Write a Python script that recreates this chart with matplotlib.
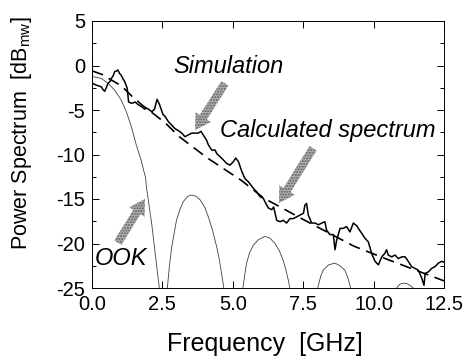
"""
Power spectrum of simulated signal vs calculated spectrum and OOK.
Saves the chart to out.png.
"""

import numpy as np
import matplotlib
matplotlib.use("Agg")
import matplotlib.pyplot as plt

# simulated spectrum (GHz, dBmW)
sim_f = [0.00, 0.01, 0.15, 0.33, 0.40, 0.45, 0.52, 0.57, 0.64, 0.69, 0.76, 0.80,
         0.88, 0.92, 0.98, 1.04, 1.10, 1.16, 1.25, 1.30, 1.41, 1.46, 1.53, 1.64,
         1.75, 1.87, 1.95, 2.05, 2.12, 2.22, 2.31, 2.40, 2.52, 2.59, 2.67, 2.71,
         2.83, 2.95, 3.06, 3.19, 3.30, 3.42, 3.54, 3.66, 3.77, 3.87, 3.95, 4.07,
         4.13, 4.25, 4.37, 4.43, 4.55, 4.66, 4.78, 4.90, 5.02, 5.10, 5.20, 5.32,
         5.43, 5.55, 5.73, 5.85, 5.97, 6.08, 6.14, 6.26, 6.38, 6.45, 6.56, 6.68,
         6.79, 6.91, 7.03, 7.15, 7.27, 7.39, 7.51, 7.56, 7.62, 7.68, 7.80, 7.92,
         8.04, 8.16, 8.27, 8.33, 8.45, 8.57, 8.63, 8.69, 8.81, 8.92, 9.04, 9.16,
         9.28, 9.40, 9.50, 9.58, 9.69, 9.81, 9.93, 10.05, 10.17, 10.29, 10.40,
         10.46, 10.52, 10.64, 10.76, 10.88, 11.00, 11.12, 11.23, 11.35, 11.47,
         11.59, 11.71, 11.79, 11.83, 11.94, 12.06, 12.18, 12.30, 12.42, 12.50]
sim_db = [0.4, -2.0, -2.2, -2.4, -2.75, -2.9, -2.4, -2.0, -1.8, -1.45, -1.1, -0.7,
          -0.6, -0.5, -0.9, -1.1, -1.5, -1.8, -2.55, -4.1, -4.25, -4.2, -4.1, -4.4,
          -4.6, -4.9, -4.8, -5.0, -5.2, -4.9, -3.8, -4.4, -5.5, -5.7, -6.1, -6.3,
          -6.7, -7.1, -7.3, -7.6, -8.0, -7.8, -7.6, -7.6, -7.6, -7.4, -7.8, -8.4,
          -8.9, -9.5, -9.5, -9.9, -10.25, -10.6, -11.0, -11.2, -10.8, -10.4, -10.8, -11.9,
          -12.7, -13.05, -13.8, -14.2, -14.75, -14.9, -15.3, -16.0, -16.2, -15.9, -17.4, -17.55,
          -17.4, -17.7, -17.2, -17.2, -17.0, -16.8, -16.6, -15.7, -15.5, -16.8, -17.7, -17.7,
          -17.9, -17.7, -17.55, -18.5, -19.0, -19.0, -20.7, -19.6, -18.3, -18.3, -18.1, -18.7,
          -17.7, -18.0, -18.5, -18.85, -19.4, -19.8, -21.1, -22.0, -22.4, -21.5, -21.1,
          -20.7, -21.3, -21.5, -21.3, -21.7, -21.5, -21.5, -22.0, -22.6, -22.8,
          -23.0, -23.9, -24.7, -23.35, -23.2, -22.8, -22.6, -22.2, -22.0, -22.1]

# calculated spectrum (dashed)
calc_f = [0.0, 0.35, 1.05, 1.4, 1.8, 2.3, 2.65, 3.1, 4.1, 5.3, 6.1, 7.5, 9.3, 10.5, 12.5]
calc_db = [-0.6, -1.0, -2.3, -3.4, -4.5, -5.7, -6.6, -8.0, -10.4, -12.9, -14.9,
           -17.3, -20.3, -21.8, -24.2]

# OOK spectrum lobes, nan separates lobes
ook_f = [0.0, 0.04, 0.33, 0.57, 0.80, 1.04, 1.22, 1.40, 1.57, 1.75, 1.90, 1.94, 2.12, 2.27, 2.39, 2.45,
         np.nan,
         2.62, 2.67, 2.75, 2.83, 3.0, 3.12, 3.24, 3.40, 3.54, 3.70, 3.84, 4.0, 4.13, 4.28, 4.43, 4.52, 4.60, 4.69, 4.75,
         np.nan,
         5.28, 5.35, 5.42, 5.49, 5.60, 5.73, 5.90, 6.14, 6.32, 6.50, 6.65, 6.79, 6.88, 6.97, 7.05, 7.1,
         np.nan,
         7.9, 8.0, 8.04, 8.12, 8.21, 8.40, 8.63, 8.80, 8.98, 9.08, 9.16, 9.22, 9.3,
         np.nan,
         10.75, 10.82, 10.92, 11.05, 11.18, 11.29, 11.41, 11.5]
ook_db = [-1.2, -1.25, -1.45, -2.0, -2.75, -3.9, -5.2, -6.9, -8.9, -10.7, -12.6, -13.8, -17.8, -21.8, -25.0, -27.0,
          np.nan,
          -27.0, -25.2, -22.5, -20.4, -17.4, -16.2, -15.3, -14.7, -14.55, -14.7, -15.1, -15.9, -17.0, -18.5, -20.4, -21.8, -23.35, -25.2, -27.0,
          np.nan,
          -27.0, -25.2, -23.6, -22.2, -21.0, -20.2, -19.6, -19.2, -19.4, -20.0, -20.8, -21.9, -22.9, -24.1, -25.4, -27.0,
          np.nan,
          -27.0, -25.2, -24.7, -23.7, -23.0, -22.4, -22.2, -22.5, -23.0, -23.8, -24.7, -25.5, -27.0,
          np.nan,
          -26.0, -25.0, -24.6, -24.45, -24.5, -24.7, -25.0, -26.0]

x_ticks = [0.0, 2.5, 5.0, 7.5, 10.0, 12.5]
y_ticks = [5, 0, -5, -10, -15, -20, -25]

plt.rcParams["font.family"] = ["Liberation Sans", "DejaVu Sans"]
plt.rcParams["mathtext.fontset"] = "custom"
plt.rcParams["mathtext.rm"] = "Liberation Sans"
plt.rcParams["axes.unicode_minus"] = False

fig = plt.figure(figsize=(4.67, 3.58), dpi=100)
ax = fig.add_axes([92 / 467, 1 - 288 / 358, 352 / 467, 267 / 358])

ax.plot(ook_f, ook_db, color="0.25", lw=0.6)
ax.plot(calc_f, calc_db, color="black", lw=1.2, dashes=(7, 4))
ax.plot(sim_f, sim_db, color="black", lw=1.1)

ax.set_xlim(0, 12.5)
ax.set_ylim(-25, 5)
ax.set_xticks(x_ticks)
ax.set_xticklabels([f"{t:.1f}" for t in x_ticks])
ax.set_yticks(y_ticks)
ax.set_yticks(np.arange(-22.5, 5, 5), minor=True)
ax.tick_params(which="both", direction="in", top=True, right=True, width=0.7)
ax.tick_params(which="major", length=5, pad=5, labelsize=14.5)
ax.tick_params(which="minor", length=3)
for s in ax.spines.values():
    s.set_linewidth(0.7)

ax.set_xlabel("Frequency  [GHz]", fontsize=18)
ax.xaxis.set_label_coords(0.49, -0.165)
ax.set_ylabel(r"Power Spectrum  [dB$_{\mathrm{mw}}$]", fontsize=15.5)
ax.yaxis.set_label_coords(-0.165, 0.58)

ax.text(4.86, -0.1, "Simulation", style="italic", fontsize=17, ha="center", va="center")
ax.text(8.36, -7.3, "Calculated spectrum", style="italic", fontsize=17, ha="center", va="center")
ax.text(0.1, -21.7, "OOK", style="italic", fontsize=17, ha="left", va="center")

arrow = dict(arrowstyle="simple,head_length=1.1,head_width=1.3,tail_width=0.6",
             fc="0.7", ec="0.35", lw=0, hatch="......", shrinkA=0, shrinkB=0,
             mutation_scale=10)
ax.annotate("", xy=(3.66, -7.25), xytext=(4.72, -2.0), arrowprops=arrow)
ax.annotate("", xy=(6.64, -15.45), xytext=(7.85, -9.3), arrowprops=arrow)
ax.annotate("", xy=(1.88, -15.0), xytext=(0.92, -19.9), arrowprops=arrow)

fig.savefig("out.png", dpi=100)
